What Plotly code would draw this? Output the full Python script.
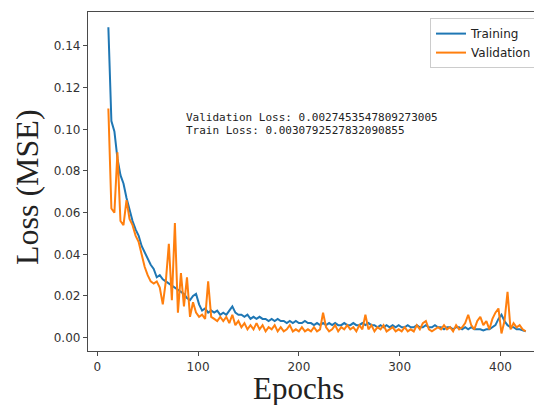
import plotly.graph_objects as go

epochs = list(range(11, 426, 3))

train_loss = [
    0.149, 0.104, 0.099, 0.086, 0.078, 0.074, 0.067, 0.061, 0.056, 0.052,
    0.049, 0.044, 0.041, 0.038, 0.035, 0.033, 0.029, 0.030, 0.028, 0.027,
    0.026, 0.025, 0.024, 0.023, 0.022, 0.021, 0.019, 0.018, 0.020, 0.021,
    0.016, 0.013, 0.014, 0.012, 0.013, 0.012, 0.013, 0.011, 0.012, 0.011,
    0.013, 0.015, 0.012, 0.011, 0.011, 0.010, 0.011, 0.009, 0.010, 0.009,
    0.010, 0.009, 0.009, 0.008, 0.009, 0.008, 0.009, 0.008, 0.008, 0.007,
    0.008, 0.007, 0.008, 0.007, 0.007, 0.008, 0.007, 0.007, 0.006, 0.007,
    0.006, 0.007, 0.006, 0.007, 0.006, 0.007, 0.006, 0.006, 0.007, 0.006,
    0.006, 0.007, 0.006, 0.006, 0.007, 0.006, 0.007, 0.006, 0.006, 0.005,
    0.006, 0.005, 0.006, 0.005, 0.006, 0.005, 0.006, 0.005, 0.005, 0.006,
    0.005, 0.005, 0.006, 0.005, 0.005, 0.006, 0.005, 0.005, 0.006, 0.005,
    0.005, 0.004, 0.005, 0.005, 0.004, 0.005, 0.005, 0.004, 0.005, 0.004,
    0.005, 0.004, 0.004, 0.004, 0.0035, 0.004, 0.004, 0.005, 0.006, 0.009,
    0.011, 0.008, 0.006, 0.005, 0.005, 0.004, 0.004, 0.0035, 0.003,
]

val_loss = [
    0.110, 0.062, 0.060, 0.089, 0.056, 0.054, 0.066, 0.057, 0.054, 0.049,
    0.046, 0.040, 0.034, 0.030, 0.027, 0.026, 0.027, 0.024, 0.016, 0.027,
    0.045, 0.018, 0.055, 0.012, 0.031, 0.015, 0.029, 0.010, 0.017, 0.012,
    0.010, 0.011, 0.009, 0.027, 0.010, 0.009, 0.008, 0.010, 0.008, 0.010,
    0.007, 0.011, 0.006, 0.008, 0.005, 0.007, 0.004, 0.006, 0.004, 0.007,
    0.004, 0.006, 0.003, 0.005, 0.004, 0.006, 0.003, 0.005, 0.003, 0.004,
    0.006, 0.003, 0.004, 0.003, 0.005, 0.003, 0.004, 0.003, 0.005, 0.003,
    0.004, 0.012, 0.005, 0.003, 0.004, 0.006, 0.003, 0.005, 0.004, 0.006,
    0.004, 0.005, 0.003, 0.006, 0.004, 0.011, 0.004, 0.006, 0.003, 0.005,
    0.004, 0.006, 0.003, 0.004, 0.005, 0.003, 0.004, 0.003, 0.005, 0.003,
    0.004, 0.003, 0.006, 0.004, 0.007, 0.008, 0.004, 0.003, 0.004, 0.005,
    0.004, 0.006, 0.004, 0.005, 0.003, 0.006, 0.004, 0.005, 0.007, 0.011,
    0.006, 0.004, 0.008, 0.010, 0.006, 0.008, 0.004, 0.009, 0.012, 0.014,
    0.002, 0.008, 0.022, 0.004, 0.007, 0.005, 0.006, 0.004, 0.003,
]

x_ticks = [0, 100, 200, 300, 400]
y_ticks = [0.00, 0.02, 0.04, 0.06, 0.08, 0.10, 0.12, 0.14]

val_text = "Validation Loss: 0.0027453547809273005"
train_text = "Train Loss: 0.0030792527832090855"

n = min(len(epochs), len(train_loss), len(val_loss))

fig = go.Figure()
fig.add_trace(go.Scatter(x=epochs[:n], y=train_loss[:n], mode="lines", name="Training",
                         line=dict(color="#1f77b4", width=2)))
fig.add_trace(go.Scatter(x=epochs[:n], y=val_loss[:n], mode="lines", name="Validation",
                         line=dict(color="#ff7f0e", width=2)))

axis_color = "#4a4a4a"
tick_font = dict(family="DejaVu Sans", size=12, color="#333333")

# page body has an 8px default margin; figure sized to fill the remaining window
fig.update_layout(
    width=534, height=397,
    margin=dict(l=80, r=0, t=4, b=54),
    paper_bgcolor="white", plot_bgcolor="white",
    showlegend=True,
    legend=dict(x=0.989, y=0.982, xanchor="right", yanchor="top",
                bgcolor="white", bordercolor="#cccccc", borderwidth=1,
                font=dict(family="DejaVu Sans", size=12, color="#222222"),
                itemwidth=30, tracegroupgap=0),
    xaxis=dict(range=[-9.2, 441.2], tickvals=x_ticks, ticktext=[str(t) for t in x_ticks],
               showgrid=False, zeroline=False, showline=True, linecolor=axis_color,
               linewidth=1.3, mirror=True, ticks="outside", ticklen=4, tickcolor=axis_color,
               tickwidth=1.2, tickfont=tick_font),
    yaxis=dict(range=[-0.0064, 0.1563], tickvals=y_ticks,
               ticktext=[f"{t:.2f}" for t in y_ticks],
               showgrid=False, zeroline=False, showline=True, linecolor=axis_color,
               linewidth=1.3, ticks="outside", ticklen=4, tickcolor=axis_color,
               tickwidth=1.2, tickfont=tick_font),
    annotations=[
        dict(text=val_text, xref="paper", yref="paper", x=0.2115, y=0.690,
             xanchor="left", yanchor="middle", showarrow=False,
             font=dict(family="DejaVu Sans Mono", size=11, color="#222222")),
        dict(text=train_text, xref="paper", yref="paper", x=0.2115, y=0.649,
             xanchor="left", yanchor="middle", showarrow=False,
             font=dict(family="DejaVu Sans Mono", size=11, color="#222222")),
        dict(text="Epochs", xref="paper", yref="paper", x=(298 - 88) / 454, y=-(388 - 351) / 339,
             xanchor="center", yanchor="middle", showarrow=False,
             font=dict(family="Liberation Serif", size=31, color="#222222")),
        dict(text="Loss (MSE)", xref="paper", yref="paper", x=(27 - 88) / 454, y=(351 - 187) / 339,
             xanchor="center", yanchor="middle", showarrow=False, textangle=-90,
             font=dict(family="Liberation Serif", size=32, color="#222222")),
    ],
)

fig.write_html("out.html")
